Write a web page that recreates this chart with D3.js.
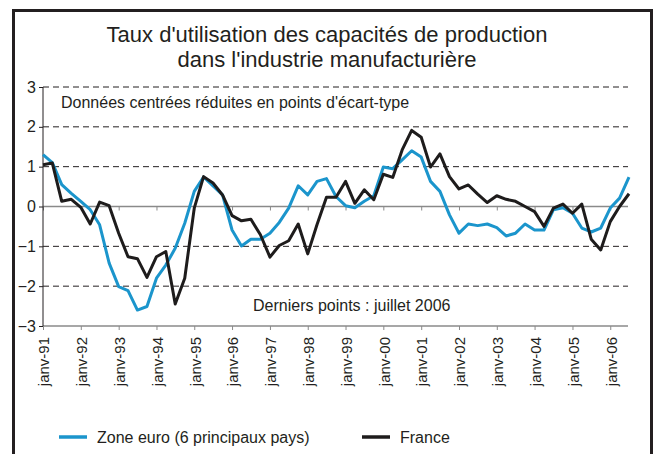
<!DOCTYPE html>
<html>
<head>
<meta charset="utf-8">
<script src="https://cdn.jsdelivr.net/npm/d3@7"></script>
<style>
  body { margin: 0; background: #fff; }
  svg { font-family: "Liberation Sans", Arial, sans-serif; }
</style>
</head>
<body>
<div id="chart"></div>
<script>

// data (quarterly, janv-91 .. juil-06)

const zoneEuro = [1.30, 1.10, 0.55, 0.33, 0.13, -0.08, -0.46, -1.42, -2.01, -2.11,
  -2.60, -2.51, -1.80, -1.47, -1.05, -0.42, 0.38, 0.74, 0.52, 0.29,
  -0.59, -0.99, -0.82, -0.82, -0.67, -0.40, -0.04, 0.52, 0.29, 0.63,
  0.70, 0.25, 0.02, -0.03, 0.13, 0.27, 0.99, 0.95, 1.17, 1.40,
  1.24, 0.63, 0.38, -0.21, -0.67, -0.44, -0.48, -0.44, -0.53, -0.74,
  -0.67, -0.44, -0.59, -0.59, -0.08, -0.03, -0.17, -0.54, -0.64, -0.54,
  -0.04, 0.21, 0.74]

const france = [1.05, 1.09, 0.13, 0.18, -0.02, -0.44, 0.11, 0.02, -0.67, -1.26,
  -1.31, -1.78, -1.26, -1.13, -2.45, -1.80, -0.04, 0.75, 0.59, 0.29,
  -0.23, -0.36, -0.32, -0.71, -1.27, -0.98, -0.86, -0.44, -1.19, -0.45,
  0.23, 0.23, 0.63, 0.08, 0.42, 0.17, 0.81, 0.73, 1.42, 1.91,
  1.74, 0.99, 1.32, 0.75, 0.44, 0.54, 0.31, 0.10, 0.27, 0.18,
  0.13, 0.00, -0.13, -0.50, -0.04, 0.06, -0.17, 0.06, -0.82, -1.09,
  -0.38, 0.00, 0.32]

const yTicks = [-3, -2, -1, 0, 1, 2, 3]
const series = [
  {name: "Zone euro (6 principaux pays)", values: zoneEuro, color: "#1b95cc"},
  {name: "France", values: france, color: "#1e1c1c"}
]

const dates = d3.timeMonth.every(3).range(new Date(1991, 0, 1), new Date(2006, 7, 1))
const years = d3.timeYear.range(new Date(1991, 0, 1), new Date(2006, 1, 1))
const fmt = d => "janv-" + d3.timeFormat("%y")(d)

// constants

const width = 656
const height = 454
const margin = {top: 87, bottom: 128, left: 43, right: 27}

const svg = d3.select("#chart")
  .append("svg")
  .attr("width", width)
  .attr("height", height)

// frame
svg.append("rect")
  .attr("x", 13.5).attr("y", 10.5)
  .attr("width", 638).attr("height", 460)
  .attr("fill", "none")
  .attr("stroke", "#231f20")
  .attr("stroke-width", 3)

// title
const title = svg.append("text")
  .attr("text-anchor", "middle")
  .attr("font-size", 22)
  .attr("fill", "#231f20")
title.append("tspan").attr("x", 327).attr("y", 42).text("Taux d'utilisation des capacités de production")
title.append("tspan").attr("x", 327).attr("y", 67).text("dans l'industrie manufacturière")

// scales

const xScale = d3.scaleTime()
  .domain([dates[0], dates[dates.length - 1]])
  .range([margin.left, width - margin.right])

const yScale = d3.scaleLinear()
  .domain([-3, 3])
  .range([326, margin.top])

const x0 = margin.left
const x1 = xScale.range()[1] - 1

// gridlines
svg.selectAll(".grid")
  .data(yTicks.filter(d => d !== 0 && d !== -3))
  .join("line")
  .attr("class", "grid")
  .attr("x1", x0).attr("x2", x1)
  .attr("y1", d => yScale(d)).attr("y2", d => yScale(d))
  .attr("stroke", "#231f20")
  .attr("stroke-width", 1)
  .attr("stroke-dasharray", "6,4")

// x axes (bottom and zero line)
const xAxis = d3.axisBottom(xScale)
  .tickValues(years)
  .tickSize(4)
  .tickFormat("")

;[-3, 0].forEach(v => {
  const g = svg.append("g")
    .attr("transform", `translate(0, ${yScale(v)})`)
    .call(xAxis)
  g.select(".domain").attr("d", `M${x0},0H${x1}`).attr("stroke", "#8a8a8a").attr("stroke-width", 1.5)
  g.selectAll(".tick line").attr("stroke", "#8a8a8a")
})

// x labels
svg.selectAll(".xlabel")
  .data(years)
  .join("text")
  .attr("class", "xlabel")
  .attr("transform", d => `translate(${xScale(d) + 1}, 337) rotate(-90)`)
  .attr("text-anchor", "end")
  .attr("dy", "0.35em")
  .attr("font-size", 15)
  .attr("fill", "#231f20")
  .text(fmt)

// y axis
const yAxis = d3.axisLeft(yScale)
  .tickValues(yTicks)
  .tickSize(4)
  .tickFormat(d3.format("d"))

const yAxisGroup = svg.append("g")
  .attr("transform", `translate(${x0}, 0)`)
  .call(yAxis)
yAxisGroup.select(".domain").attr("d", `M0,${yScale(3)}V${yScale(-3)}`).attr("stroke", "#231f20")
yAxisGroup.selectAll(".tick line").attr("stroke", "#231f20")
yAxisGroup.selectAll(".tick text")
  .attr("font-size", 16)
  .attr("font-family", "Liberation Sans, Arial, sans-serif")
  .attr("fill", "#231f20")
  .attr("x", -7)

// annotations
svg.append("text")
  .attr("x", 61).attr("y", 108)
  .attr("font-size", 16)
  .attr("fill", "#231f20")
  .text("Données centrées réduites en points d'écart-type")

svg.append("text")
  .attr("x", 253).attr("y", 311)
  .attr("font-size", 16)
  .attr("fill", "#231f20")
  .text("Derniers points : juillet 2006")

// lines
const lineGen = d3.line()
  .x((d, i) => xScale(dates[i]))
  .y(d => yScale(d))

svg.selectAll(".line")
  .data(series)
  .join("path")
  .attr("class", "line")
  .attr("fill", "none")
  .attr("stroke", d => d.color)
  .attr("stroke-width", 3)
  .attr("stroke-linejoin", "round")
  .attr("d", d => lineGen(d.values))

// legend
const legendX = [59, 362]
const legend = svg.selectAll(".legend")
  .data(series)
  .join("g")
  .attr("class", "legend")
  .attr("transform", (d, i) => `translate(${legendX[i]}, 437)`)

legend.append("line")
  .attr("x1", 0).attr("x2", 28)
  .attr("stroke", d => d.color)
  .attr("stroke-width", 3.5)

legend.append("text")
  .attr("x", 38)
  .attr("dy", "0.35em")
  .attr("font-size", 16)
  .attr("fill", "#231f20")
  .text(d => d.name)

</script>
</body>
</html>
